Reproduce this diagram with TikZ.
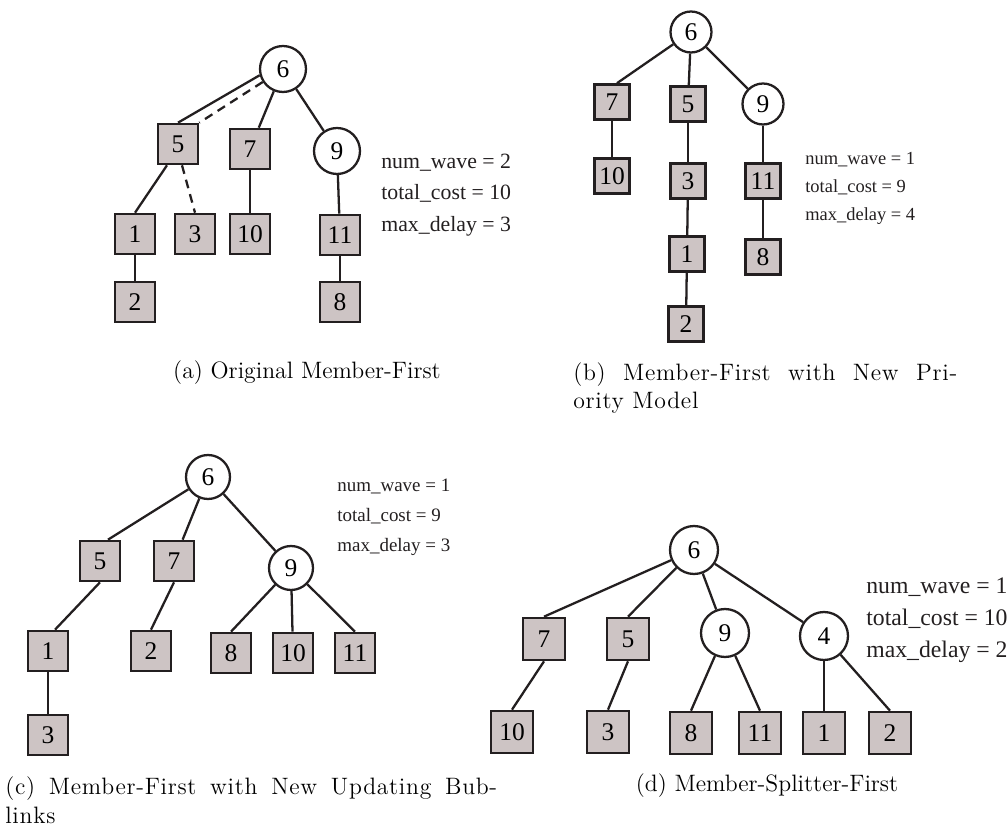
\documentclass[tikz,border=0pt]{standalone}
\usepackage{fontspec}
\newfontfamily\tnr{Liberation Serif}
\newfontfamily\captwide{Latin Modern Roman}[LetterSpace=3]
\usetikzlibrary{positioning}
\definecolor{memfill}{HTML}{CDC4C4}
\definecolor{treeblack}{HTML}{231F20}

\begin{document}
\begin{tikzpicture}[
    x=0.02cm, y=-0.02cm,
    memb/.style={
        draw=treeblack, fill=memfill, line width=1.5pt,
        minimum size=#1, inner sep=0pt,
        font=\tnr\fontsize{14.5}{16}\selectfont
    },
    splt/.style={
        circle, draw=treeblack, fill=white, line width=1.3pt,
        minimum size=#1, inner sep=0pt,
        font=\tnr\fontsize{14.5}{16}\selectfont
    },
    every edge/.style={draw=treeblack, line width=1.3pt},
    lossy/.style={dashed, dash pattern=on 5pt off 3.5pt},
    stats/.style={align=left, anchor=west, inner sep=0pt, text=treeblack},
    capt/.style={font=\fontsize{13.5}{16.4}\selectfont, inner sep=0pt, align=left},
    captj/.style={capt, anchor=west, font=\captwide\fontsize{13.5}{16.4}\selectfont},
]
\useasboundingbox (0,0) rectangle (1008,827);

% ---- (a) original member-first ----
\node[splt=0.92cm] (a6) at (283,69) {6};
\node[memb=0.8cm] (a5) at (178,144) {5};
\node[memb=0.8cm] (a7) at (250,149) {7};
\node[splt=0.92cm] (a9) at (337,151) {9};
\node[memb=0.8cm] (a1) at (135,234) {1};
\node[memb=0.8cm] (a3) at (195,234) {3};
\node[memb=0.8cm] (a10) at (250,234) {10};
\node[memb=0.8cm] (a11) at (340,235) {11};
\node[memb=0.8cm] (a2) at (135,302) {2};
\node[memb=0.8cm] (a8) at (340,302) {8};

\draw (a6.195) edge (a5.north);
\draw (a6) edge[lossy] (a5.north east);
\draw ([xshift=-0.22cm]a5.south) edge (a1.north);
\draw ([xshift=0.08cm]a5.south) edge[lossy] (a3.north);
\draw (a6) edge (a7);
\draw (a6) edge (a9);
\draw (a7) edge (a10);
\draw (a9) edge (a11);
\draw (a11) edge (a8);
\draw (a1) edge (a2);

\node[stats, font=\tnr\fontsize{12.4}{18.1}\selectfont] (statsA) at (381,195)
    {num\_wave = 2\\total\_cost = 10\\max\_delay = 3};
\node[capt] (captA) at (307,373) {(a) Original Member-First};

% ---- (b) new priority model ----
\node[splt=0.82cm] (b6) at (691,32) {6};
\node[memb=0.7cm] (b7) at (612,102) {7};
\node[memb=0.7cm] (b5) at (688,104) {5};
\node[splt=0.82cm] (b9) at (763,104) {9};
\node[memb=0.7cm] (b10) at (612,176) {10};
\node[memb=0.7cm] (b3) at (688,181) {3};
\node[memb=0.7cm] (b11) at (763,181) {11};
\node[memb=0.7cm] (b1) at (687,254) {1};
\node[memb=0.7cm] (b8) at (763,257) {8};
\node[memb=0.7cm] (b2) at (686,324) {2};

\draw (b6) edge ([xshift=0.1cm]b7.north);
\draw (b6) edge (b5);
\draw (b6) edge (b9);
\draw (b7) edge (b10);
\draw (b5) edge (b3);
\draw (b3) edge (b1);
\draw (b1) edge (b2);
\draw (b9) edge (b11);
\draw (b11) edge (b8);

\node[stats, font=\tnr\fontsize{10.5}{15.9}\selectfont] (statsB) at (805,188)
    {num\_wave = 1\\total\_cost = 9\\max\_delay = 4};
\node[captj] (captB) at (573,388)
    {\makebox[7.68cm][s]{(b) Member-First with New Pri-}\\ority Model};

% ---- (c) new updating bublinks ----
\node[splt=0.88cm] (c6) at (208,477) {6};
\node[memb=0.8cm] (c5) at (100,561) {5};
\node[memb=0.8cm] (c7) at (174,561) {7};
\node[splt=0.88cm] (c9) at (291,568) {9};
\node[memb=0.8cm] (c1) at (48,651) {1};
\node[memb=0.8cm] (c2) at (151,651) {2};
\node[memb=0.8cm] (c8) at (231,653) {8};
\node[memb=0.8cm] (c10) at (293,653) {10};
\node[memb=0.8cm] (c11) at (355,653) {11};
\node[memb=0.8cm] (c3) at (48,735) {3};

\draw (c6) edge ([xshift=0.16cm]c5.north);
\draw (c6) edge (c7);
\draw (c6) edge (c9);
\draw (c5.south) edge ([xshift=0.14cm]c1.north);
\draw (c7.south) edge (c2.north);
\draw (c9) edge (c8.north);
\draw (c9) edge (c10);
\draw (c9) edge (c11.north);
\draw (c1) edge (c3);

\node[stats, font=\tnr\fontsize{10.8}{17}\selectfont] (statsC) at (337,517)
    {num\_wave = 1\\total\_cost = 9\\max\_delay = 3};
\node[captj] (captC) at (5,800)
    {\makebox[9.84cm][s]{(c) Member-First with New Updating Bub-}\\links};

% ---- (d) member-splitter-first ----
\node[splt=0.96cm] (d6) at (694,550) {6};
\node[memb=0.84cm] (d7) at (544,639) {7};
\node[memb=0.84cm] (d5) at (628,639) {5};
\node[splt=0.96cm] (d9) at (725,633) {9};
\node[splt=0.96cm] (d4) at (824,636) {4};
\node[memb=0.84cm] (d10) at (512,732) {10};
\node[memb=0.84cm] (d3) at (608,732) {3};
\node[memb=0.84cm] (d8) at (691,733) {8};
\node[memb=0.84cm] (d11) at (760,733) {11};
\node[memb=0.84cm] (d1) at (824,733) {1};
\node[memb=0.84cm] (d2) at (890,733) {2};

\draw (d6) edge (d7.north);
\draw (d6) edge (d5.north);
\draw (d6) edge (d9);
\draw (d6) edge (d4);
\draw (d7.south) edge (d10.north);
\draw (d5.south) edge (d3.north);
\draw (d9) edge (d8.north);
\draw (d9) edge (d11.north);
\draw (d4) edge (d1);
\draw (d4) edge (d2.north);

\node[stats, font=\tnr\fontsize{13.5}{18.1}\selectfont] (statsD) at (866,620)
    {num\_wave = 1\\total\_cost = 10\\max\_delay = 2};
\node[capt] (captD) at (767,786) {(d) Member-Splitter-First};

\end{tikzpicture}
\end{document}
